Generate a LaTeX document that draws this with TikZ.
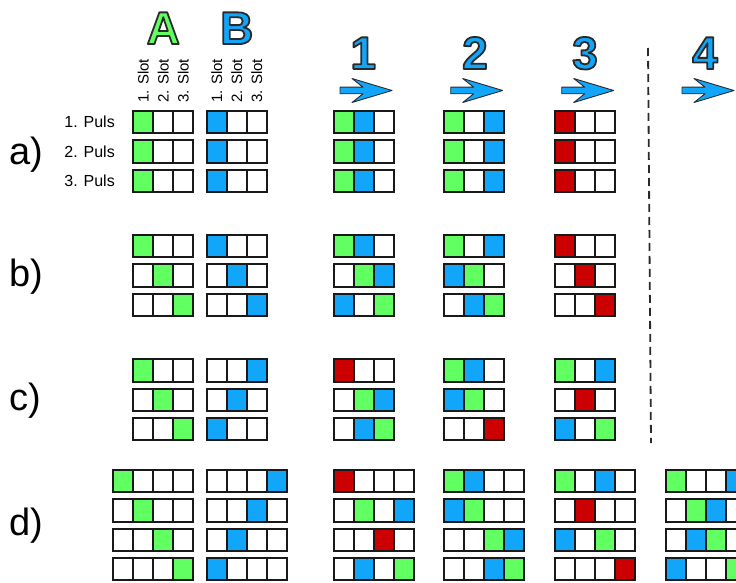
\documentclass[tikz,border=0pt]{standalone}
\usepackage{fontspec}
\setmainfont{Liberation Sans}
\usetikzlibrary{positioning}

\definecolor{gn}{HTML}{62FF62}
\definecolor{bl}{HTML}{12A6FA}
\definecolor{rd}{HTML}{CC0000}
\definecolor{wh}{HTML}{FFFFFF}
\definecolor{outl}{HTML}{2A2A2A}

% filled letter with a dark outline (text render mode 2)
\newcommand{\outlined}[1]{\special{pdf:code 0.165 0.165 0.165 RG 1.8 w 1 j 2 Tr}#1\special{pdf:code 0 Tr}}
\newcommand{\slotrow}[3]{\foreach \cl [count=\i from 0] in #3 {\draw[slot, fill=\cl] ({#1+20*\i},{#2}) rectangle ++(20,22.3);}}
\newcommand{\slotblock}[3]{\foreach \rw [count=\j from 0] in {#3} {\slotrow{#1}{#2+29.3*\j}{\rw}}}

\begin{document}
\begin{tikzpicture}[x=1pt, y=-1pt,
  slot/.style={draw=black!90, line width=1.8pt},
  big/.style={anchor=base, inner sep=0, font=\fontsize{46}{50}\selectfont\bfseries},
  slotlabel/.style={rotate=90, anchor=west, inner sep=0, font=\fontsize{15}{17}\selectfont},
  pulslabel/.style={anchor=east, inner sep=0, font=\fontsize{16}{18}\selectfont},
  rowlabel/.style={anchor=west, inner sep=0, font=\fontsize{38}{42}\selectfont},
  arrowbody/.style={fill=bl, draw=outl, line width=0.9pt, line join=round},
  divider/.style={draw=outl, line width=1.8pt, dash pattern=on 8pt off 5pt},
  fatarrow/.pic={\path[arrowbody] (0,-3.3) -- (23,-3.3) -- (12,-12) -- (52,0) -- (12,12) -- (23,3.3) -- (0,3.3) -- cycle;}]
\useasboundingbox (0,0) rectangle (736,583);

% headings
\node[big, text=gn] (A) at (163.3,44) {\outlined{A}};
\node[big, text=bl] (B) at (236.7,44) {\outlined{B}};
\foreach \n/\x in {1/363.3, 2/475, 3/585, 4/705}
  \node[big, text=bl] (step\n) at (\x,69) {\outlined{\n}};
\foreach \n/\x in {1/340, 2/450.7, 3/561.7, 4/682}
  \pic (arrow\n) at (\x,90.5) {fatarrow};

\foreach \x [count=\k] in {143.3,163.3,183.3}
  \node[slotlabel] (slotA\k) at (\x,103) {\k. Slot};
\foreach \x [count=\k] in {216.7,236.7,256.7}
  \node[slotlabel] (slotB\k) at (\x,103) {\k. Slot};
\foreach \k in {1,2,3}
  \node[pulslabel] (puls\k) at (115,{122.2+29.3*(\k-1)}) {\k. Puls};

\node[rowlabel] (rowa) at (9,155) {a)};
\node[rowlabel] (rowb) at (9,276.7) {b)};
\node[rowlabel] (rowc) at (9,401) {c)};
\node[rowlabel] (rowd) at (9,526) {d)};

% a)
\slotblock{133.3}{111}{{gn,wh,wh},{gn,wh,wh},{gn,wh,wh}}
\slotblock{206.7}{111}{{bl,wh,wh},{bl,wh,wh},{bl,wh,wh}}
\slotblock{333.7}{111}{{gn,bl,wh},{gn,bl,wh},{gn,bl,wh}}
\slotblock{444.3}{111}{{gn,wh,bl},{gn,wh,bl},{gn,wh,bl}}
\slotblock{555}{111}{{rd,wh,wh},{rd,wh,wh},{rd,wh,wh}}

% b)
\slotblock{133.3}{235}{{gn,wh,wh},{wh,gn,wh},{wh,wh,gn}}
\slotblock{206.7}{235}{{bl,wh,wh},{wh,bl,wh},{wh,wh,bl}}
\slotblock{333.7}{235}{{gn,bl,wh},{wh,gn,bl},{bl,wh,gn}}
\slotblock{444.3}{235}{{gn,wh,bl},{bl,gn,wh},{wh,bl,gn}}
\slotblock{555}{235}{{rd,wh,wh},{wh,rd,wh},{wh,wh,rd}}

% c)
\slotblock{133.3}{359.3}{{gn,wh,wh},{wh,gn,wh},{wh,wh,gn}}
\slotblock{206.7}{359.3}{{wh,wh,bl},{wh,bl,wh},{bl,wh,wh}}
\slotblock{333.7}{359.3}{{rd,wh,wh},{wh,gn,bl},{wh,bl,gn}}
\slotblock{444.3}{359.3}{{gn,bl,wh},{bl,gn,wh},{wh,wh,rd}}
\slotblock{555}{359.3}{{gn,wh,bl},{wh,rd,wh},{bl,wh,gn}}

% d)
\slotblock{112.7}{470}{{gn,wh,wh,wh},{wh,gn,wh,wh},{wh,wh,gn,wh},{wh,wh,wh,gn}}
\slotblock{206.7}{470}{{wh,wh,wh,bl},{wh,wh,bl,wh},{wh,bl,wh,wh},{bl,wh,wh,wh}}
\slotblock{333.7}{470}{{rd,wh,wh,wh},{wh,gn,wh,bl},{wh,wh,rd,wh},{wh,bl,wh,gn}}
\slotblock{444.3}{470}{{gn,bl,wh,wh},{bl,gn,wh,wh},{wh,wh,gn,bl},{wh,wh,bl,gn}}
\slotblock{555}{470}{{gn,wh,bl,wh},{wh,rd,wh,wh},{bl,wh,gn,wh},{wh,wh,wh,rd}}
\slotblock{665.7}{470}{{gn,wh,wh,bl},{wh,gn,bl,wh},{wh,bl,gn,wh},{bl,wh,wh,gn}}

\coordinate (dtop) at (648,48);
\coordinate (dbot) at (651,443);
\draw[divider] (dtop) -- (dbot);
\end{tikzpicture}
\end{document}
